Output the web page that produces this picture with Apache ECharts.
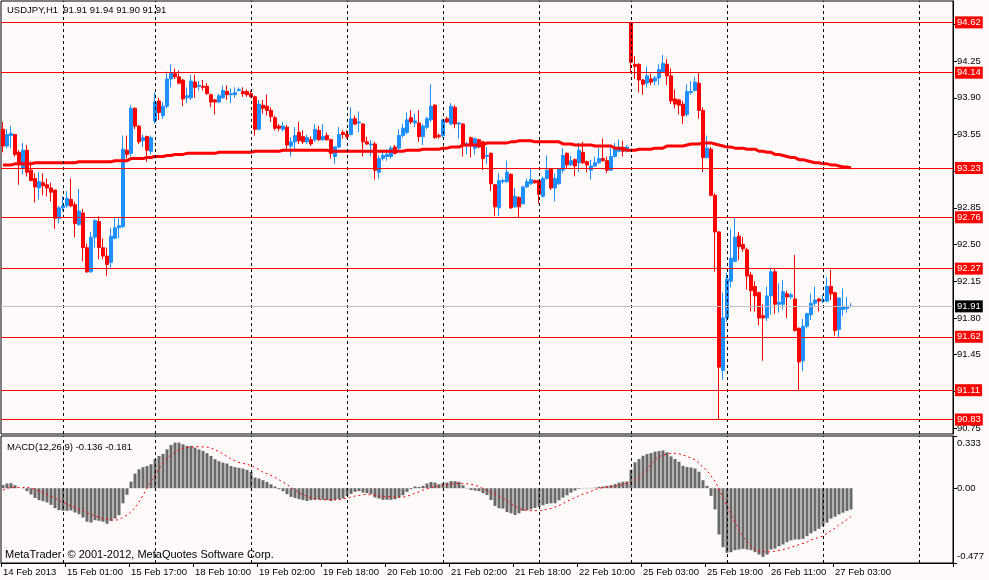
<!DOCTYPE html>
<html>
<head>
<meta charset="utf-8">
<title>USDJPY,H1</title>
<script src="https://cdn.jsdelivr.net/npm/echarts@6/dist/echarts.min.js"></script>
<style>
  html, body { margin: 0; padding: 0; background: #fffafa; }
  #chart { width: 989px; height: 580px; }
</style>
</head>
<body>
<div id="chart"></div>
<script>
// USDJPY H1 with MA and MACD(12,26,9), MetaTrader style

const symbol = 'USDJPY';
const period = 'H1';

// trading hours per day [day, first hour, last hour]; bars after 27 Feb 07:00 are empty space
const sessions = [
  ['14 Feb', 9, 23], ['15 Feb', 0, 22], ['18 Feb', 0, 23], ['19 Feb', 0, 23],
  ['20 Feb', 0, 23], ['21 Feb', 0, 23], ['22 Feb', 0, 22], ['25 Feb', 0, 23],
  ['26 Feb', 0, 23], ['27 Feb', 0, 23], ['28 Feb', 0, 8]
];

// one label every 16 bars
const tickLabels = ['14 Feb 2013', '15 Feb 01:00', '15 Feb 17:00', '18 Feb 10:00', '19 Feb 02:00',
  '19 Feb 18:00', '20 Feb 10:00', '21 Feb 02:00', '21 Feb 18:00', '22 Feb 10:00',
  '25 Feb 03:00', '25 Feb 19:00', '26 Feb 11:00', '27 Feb 03:00'];

// [open, high, low, close]
const bars = [
  // 14 Feb
  [93.60,93.67,93.38,93.44],[93.44,93.60,93.42,93.55],[93.54,93.63,93.42,93.56],[93.55,93.55,93.34,93.36],[93.38,93.40,93.07,93.26],
  [93.23,93.47,93.17,93.40],[93.40,93.45,93.15,93.19],[93.21,93.29,93.11,93.11],[93.13,93.18,92.90,93.05],[93.04,93.19,92.93,93.10],
  [93.09,93.18,92.97,93.06],[93.07,93.13,92.96,93.04],[93.04,93.09,92.91,93.00],[93.02,93.02,92.65,92.75],[92.75,92.87,92.70,92.85],
  // 15 Feb
  [92.85,92.96,92.82,92.87],[92.87,93.01,92.85,92.94],[92.93,93.13,92.86,92.87],[92.88,92.91,92.57,92.70],[92.69,93.03,92.68,92.82],
  [92.80,92.84,92.34,92.47],[92.47,92.51,92.23,92.24],[92.24,92.62,92.23,92.57],[92.57,92.74,92.47,92.73],[92.72,92.77,92.36,92.47],
  [92.47,92.56,92.36,92.39],[92.39,92.47,92.20,92.31],[92.33,92.66,92.28,92.58],[92.56,92.76,92.55,92.66],[92.66,92.75,92.56,92.68],
  [92.67,93.54,92.66,93.41],[93.40,93.54,93.32,93.36],[93.37,93.83,93.34,93.80],[93.80,93.81,93.60,93.63],[93.63,93.64,93.46,93.48],
  [93.49,93.55,93.43,93.52],[93.53,93.54,93.29,93.40],[93.39,93.54,93.36,93.52],
  // 18 Feb
  [93.68,93.95,93.65,93.86],[93.87,93.90,93.69,93.76],
  [93.73,93.86,93.70,93.82],[93.82,94.15,93.80,94.08],[94.08,94.22,94.00,94.14],[94.13,94.18,94.08,94.10],[94.10,94.16,94.03,94.04],
  [94.07,94.08,93.82,93.89],[93.90,94.00,93.85,93.92],[93.90,94.12,93.88,94.06],[94.05,94.12,93.90,94.00],[94.01,94.06,93.97,94.02],
  [94.01,94.07,93.97,94.00],[94.01,94.04,93.93,93.94],[93.93,93.94,93.81,93.86],[93.88,93.89,93.74,93.86],[93.86,93.94,93.85,93.92],
  [93.90,94.02,93.89,93.97],[93.96,94.02,93.88,93.93],[93.93,93.99,93.85,93.94],[93.93,94.00,93.90,93.95],[93.97,94.00,93.96,93.98],
  [93.96,94.00,93.91,93.94],[93.96,93.98,93.91,93.93],
  // 19 Feb
  [93.94,93.97,93.90,93.91],[93.91,93.92,93.54,93.60],[93.60,93.88,93.59,93.84],
  [93.83,93.88,93.75,93.80],[93.82,93.93,93.73,93.78],[93.78,93.81,93.67,93.72],[93.71,93.73,93.59,93.61],[93.63,93.65,93.58,93.61],
  [93.60,93.67,93.58,93.63],[93.62,93.64,93.40,93.45],[93.44,93.52,93.34,93.48],[93.48,93.62,93.40,93.54],[93.57,93.67,93.46,93.49],
  [93.53,93.59,93.46,93.48],[93.48,93.55,93.46,93.52],[93.50,93.53,93.44,93.46],[93.50,93.65,93.48,93.60],[93.59,93.63,93.49,93.50],
  [93.50,93.65,93.49,93.53],[93.54,93.57,93.49,93.50],[93.50,93.51,93.32,93.37],[93.34,93.44,93.27,93.43],[93.43,93.62,93.42,93.55],
  [93.57,93.59,93.51,93.55],
  // 20 Feb
  [93.55,93.59,93.51,93.53],[93.55,93.81,93.54,93.70],[93.70,93.73,93.64,93.65],[93.66,93.77,93.57,93.67],
  [93.65,93.66,93.34,93.48],[93.48,93.53,93.45,93.46],[93.45,93.50,93.34,93.46],[93.46,93.48,93.12,93.21],[93.19,93.35,93.13,93.32],
  [93.32,93.40,93.30,93.35],[93.34,93.41,93.30,93.36],[93.34,93.44,93.32,93.42],[93.43,93.45,93.36,93.37],[93.42,93.60,93.40,93.54],
  [93.54,93.65,93.52,93.61],[93.57,93.76,93.55,93.69],[93.71,93.78,93.65,93.67],[93.66,93.75,93.62,93.68],[93.66,93.78,93.48,93.53],
  [93.53,93.65,93.45,93.63],[93.62,93.72,93.60,93.70],[93.69,94.03,93.67,93.82],[93.83,93.84,93.51,93.52],[93.54,93.56,93.51,93.53],
  // 21 Feb
  [93.54,93.70,93.52,93.69],[93.70,93.72,93.66,93.67],[93.65,93.85,93.64,93.82],[93.81,93.83,93.61,93.65],[93.65,93.67,93.51,93.66],
  [93.65,93.66,93.34,93.44],[93.44,93.48,93.36,93.46],[93.52,93.53,93.33,93.45],[93.42,93.52,93.36,93.51],[93.50,93.51,93.42,93.43],
  [93.48,93.49,93.21,93.32],[93.34,93.43,93.27,93.35],[93.37,93.38,93.01,93.08],[93.07,93.08,92.77,92.86],[92.85,93.18,92.77,93.11],
  [93.10,93.13,93.08,93.11],[93.10,93.30,93.09,93.19],[93.17,93.18,92.84,92.85],[92.86,93.04,92.85,92.96],[92.95,92.96,92.76,92.86],
  [92.89,93.06,92.88,93.05],[93.05,93.13,93.04,93.10],[93.08,93.23,93.07,93.12],[93.11,93.12,93.08,93.09],
  // 22 Feb
  [93.11,93.12,92.89,92.98],
  [92.96,93.15,92.95,93.13],[93.13,93.35,93.12,93.21],[93.22,93.23,93.02,93.04],[93.04,93.18,92.91,93.13],[93.08,93.23,93.07,93.22],
  [93.21,93.42,93.18,93.35],[93.37,93.38,93.23,93.26],[93.26,93.35,93.25,93.30],[93.31,93.32,93.15,93.25],[93.28,93.47,93.19,93.40],
  [93.38,93.48,93.27,93.28],[93.29,93.30,93.19,93.26],[93.21,93.31,93.12,93.25],[93.25,93.34,93.24,93.28],[93.28,93.42,93.27,93.32],
  [93.32,93.51,93.29,93.30],[93.30,93.34,93.18,93.21],[93.21,93.43,93.20,93.34],[93.34,93.47,93.33,93.43],[93.39,93.50,93.38,93.43],
  [93.42,93.49,93.34,93.39],[93.39,93.45,93.38,93.43],
  // 25 Feb
  [94.62,94.62,94.14,94.24],[94.22,94.30,94.08,94.20],[94.22,94.23,93.95,94.07],
  [94.07,94.08,93.93,94.03],[94.04,94.20,94.00,94.11],[94.08,94.13,94.02,94.05],[94.06,94.11,94.02,94.09],[94.09,94.22,94.02,94.17],
  [94.15,94.31,94.14,94.23],[94.22,94.27,94.02,94.11],[94.11,94.18,93.84,93.87],[93.89,93.98,93.80,93.84],[93.88,93.89,93.74,93.83],
  [93.84,93.87,93.65,93.73],[93.74,94.03,93.72,93.96],[93.95,94.06,93.93,93.96],[93.97,94.10,93.96,94.05],[94.04,94.14,93.70,93.78],
  [93.78,93.81,93.19,93.33],[93.33,93.54,93.32,93.42],[93.41,93.43,92.96,92.97],[92.97,92.99,92.24,92.62],[92.62,92.63,90.83,91.33],
  [91.30,92.04,91.21,91.80],
  // 26 Feb
  [91.80,92.23,91.76,92.17],[92.15,92.65,92.09,92.37],[92.34,92.76,92.33,92.57],[92.58,92.62,92.35,92.48],
  [92.50,92.57,92.43,92.46],[92.45,92.47,92.07,92.20],[92.21,92.24,91.86,92.06],[92.10,92.15,91.86,92.01],[92.04,92.05,91.73,91.80],
  [91.82,91.93,91.39,91.80],[91.80,92.10,91.77,92.01],[92.01,92.28,91.83,92.24],[92.24,92.27,91.84,91.93],[91.93,92.13,91.85,91.95],
  [91.93,92.16,91.88,92.05],[92.03,92.06,91.80,92.00],[92.00,92.04,91.98,92.02],[91.98,92.40,91.67,91.68],[91.70,91.71,91.11,91.38],
  [91.39,91.79,91.29,91.72],[91.72,91.85,91.70,91.84],[91.83,92.03,91.78,91.94],[91.94,92.10,91.91,91.97],[91.98,91.99,91.86,91.96],
  // 27 Feb
  [91.96,92.02,91.94,91.97],[91.96,92.19,91.95,92.10],[92.10,92.26,91.97,92.03],[92.04,92.05,91.63,91.68],[91.69,92.00,91.61,91.99],
  [91.88,92.08,91.82,91.91],[91.89,92.00,91.85,91.91],[91.91,91.94,91.90,91.91]
];

// moving average (thick red line)
const ma = [
  93.26,93.26,93.26,93.27,93.27,93.27,93.27,93.27,93.28,93.28,
  93.28,93.28,93.28,93.28,93.28,93.28,93.28,93.28,93.28,93.29,
  93.29,93.29,93.29,93.29,93.29,93.29,93.29,93.29,93.30,93.30,
  93.30,93.30,93.32,93.32,93.32,93.32,93.33,93.33,93.34,93.34,
  93.34,93.35,93.35,93.36,93.36,93.36,93.37,93.37,93.37,93.37,
  93.37,93.37,93.37,93.37,93.38,93.38,93.38,93.38,93.38,93.38,
  93.38,93.38,93.38,93.39,93.39,93.39,93.39,93.39,93.39,93.39,
  93.40,93.40,93.40,93.40,93.40,93.40,93.40,93.40,93.40,93.40,
  93.40,93.40,93.39,93.39,93.39,93.39,93.39,93.39,93.39,93.39,
  93.39,93.39,93.39,93.39,93.39,93.39,93.39,93.39,93.39,93.39,
  93.39,93.40,93.40,93.40,93.40,93.41,93.41,93.41,93.41,93.41,
  93.42,93.42,93.43,93.43,93.43,93.45,93.45,93.45,93.45,93.45,
  93.45,93.47,93.47,93.47,93.47,93.47,93.47,93.48,93.48,93.49,
  93.49,93.49,93.49,93.48,93.48,93.48,93.48,93.48,93.48,93.48,
  93.46,93.46,93.46,93.45,93.45,93.45,93.45,93.45,93.44,93.44,
  93.44,93.44,93.44,93.42,93.42,93.42,93.40,93.40,93.40,93.41,
  93.41,93.41,93.41,93.42,93.42,93.42,93.44,93.44,93.44,93.44,
  93.44,93.45,93.46,93.46,93.46,93.47,93.47,93.47,93.46,93.45,
  93.44,93.43,93.43,93.42,93.42,93.42,93.41,93.41,93.41,93.39,
  93.39,93.38,93.38,93.36,93.36,93.35,93.34,93.33,93.33,93.31,
  93.31,93.30,93.29,93.28,93.28,93.27,93.27,93.26,93.26,93.25,
  93.24,93.24,93.23
];

// MACD main (histogram)
const macdMain = [
  0.020,0.030,0.032,0.019,0.000,-0.002,-0.019,-0.040,-0.062,-0.076,
  -0.083,-0.091,-0.106,-0.127,-0.140,-0.144,-0.144,-0.142,-0.155,-0.166,
  -0.187,-0.214,-0.219,-0.204,-0.208,-0.214,-0.227,-0.208,-0.193,-0.172,
  -0.096,-0.042,0.042,0.093,0.121,0.134,0.142,0.153,0.185,0.206,
  0.219,0.248,0.276,0.291,0.291,0.280,0.270,0.270,0.259,0.248,
  0.238,0.223,0.206,0.185,0.172,0.163,0.157,0.142,0.134,0.130,
  0.125,0.117,0.104,0.068,0.062,0.051,0.040,0.025,0.011,-0.006,
  -0.019,-0.038,-0.055,-0.062,-0.070,-0.076,-0.081,-0.076,-0.074,-0.072,
  -0.074,-0.076,-0.081,-0.076,-0.070,-0.066,-0.049,-0.036,-0.023,-0.019,
  -0.028,-0.032,-0.038,-0.059,-0.066,-0.074,-0.074,-0.074,-0.070,-0.059,
  -0.045,-0.023,-0.006,0.011,0.008,0.015,0.030,0.040,0.036,0.025,
  0.032,0.036,0.045,0.045,0.041,0.019,-0.002,-0.011,-0.015,-0.019,
  -0.032,-0.043,-0.075,-0.113,-0.128,-0.130,-0.152,-0.160,-0.171,-0.160,
  -0.145,-0.141,-0.135,-0.126,-0.118,-0.109,-0.100,-0.096,-0.096,-0.077,
  -0.060,-0.045,-0.028,-0.015,-0.004,0.002,0.002,0.002,0.004,0.009,
  0.011,0.015,0.019,0.026,0.036,0.041,0.043,0.118,0.165,0.186,
  0.207,0.218,0.224,0.233,0.237,0.241,0.229,0.203,0.186,0.169,
  0.143,0.135,0.132,0.126,0.105,0.051,0.015,-0.049,-0.135,-0.295,
  -0.376,-0.412,-0.408,-0.395,-0.391,-0.387,-0.391,-0.395,-0.408,-0.423,
  -0.438,-0.423,-0.391,-0.385,-0.370,-0.359,-0.344,-0.333,-0.327,-0.327,
  -0.323,-0.306,-0.288,-0.274,-0.259,-0.241,-0.220,-0.194,-0.182,-0.167,
  -0.156,-0.145,-0.136
];

// MACD signal (dotted)
const macdSignal = [
  -0.013,0.000,0.004,0.004,0.004,0.005,0.006,0.000,-0.008,-0.017,
  -0.028,-0.040,-0.052,-0.064,-0.078,-0.090,-0.104,-0.112,-0.122,-0.135,
  -0.147,-0.158,-0.168,-0.177,-0.185,-0.193,-0.198,-0.203,-0.204,-0.200,
  -0.185,-0.172,-0.150,-0.125,-0.090,-0.045,0.000,0.045,0.080,0.125,
  0.160,0.190,0.210,0.228,0.245,0.255,0.259,0.262,0.264,0.265,
  0.264,0.262,0.256,0.246,0.233,0.218,0.202,0.186,0.174,0.164,
  0.158,0.153,0.144,0.132,0.118,0.102,0.092,0.082,0.068,0.054,
  0.038,0.024,0.005,-0.010,-0.030,-0.042,-0.052,-0.062,-0.067,-0.070,
  -0.073,-0.074,-0.074,-0.074,-0.074,-0.068,-0.062,-0.056,-0.050,-0.046,
  -0.041,-0.040,-0.042,-0.046,-0.049,-0.053,-0.054,-0.055,-0.057,-0.059,
  -0.057,-0.052,-0.043,-0.032,-0.023,-0.012,-0.004,0.004,0.009,0.015,
  0.018,0.024,0.027,0.029,0.030,0.030,0.028,0.026,0.019,0.010,
  -0.002,-0.015,-0.027,-0.038,-0.049,-0.064,-0.080,-0.100,-0.115,-0.130,
  -0.137,-0.141,-0.143,-0.143,-0.143,-0.140,-0.135,-0.130,-0.120,-0.110,
  -0.097,-0.084,-0.072,-0.060,-0.048,-0.038,-0.030,-0.020,-0.008,-0.002,
  0.004,0.008,0.011,0.014,0.018,0.025,0.030,0.036,0.052,0.068,
  0.095,0.118,0.155,0.180,0.202,0.210,0.218,0.223,0.223,0.219,
  0.212,0.203,0.192,0.182,0.160,0.135,0.112,0.080,0.045,-0.005,
  -0.060,-0.110,-0.165,-0.220,-0.262,-0.310,-0.340,-0.368,-0.392,-0.400,
  -0.405,-0.406,-0.406,-0.402,-0.396,-0.391,-0.385,-0.376,-0.370,-0.360,
  -0.352,-0.344,-0.330,-0.322,-0.312,-0.305,-0.287,-0.270,-0.256,-0.232,
  -0.218,-0.200,-0.181
];

// horizontal lines drawn on the chart
const levels = [94.62, 94.14, 93.23, 92.76, 92.27, 91.62, 91.11, 90.83];
const bid = 91.91;

const priceTicks = [94.60, 94.25, 93.90, 93.55, 93.20, 92.85, 92.50, 92.15, 91.80, 91.45, 91.10, 90.75];
const macdTicks = [0.333, 0, -0.477];

// ---- build categories
const pad = n => (n < 10 ? '0' : '') + n;
const categories = [];
const dayStarts = [];
sessions.forEach(([day, h0, h1]) => {
  for (let h = h0; h <= h1; h++) {
    if (h === 0) dayStarts.push(categories.length);
    categories.push(day + ' ' + pad(h) + ':00');
  }
});

const FONT = 'Liberation Sans';
const FS = 9.5;
const showLabel = index => index % 16 === 0 && index < bars.length;

const last = bars[bars.length - 1];
const header = symbol + ',' + period + '  ' + last.map(v => v.toFixed(2)).join(' ');
const macdHeader = 'MACD(12,26,9) ' + macdMain[macdMain.length - 1].toFixed(3) + ' ' +
  macdSignal[macdSignal.length - 1].toFixed(3);

const dayLine = dayStarts.map(i => ({ xAxis: categories[i] }));
const dayLineStyle = { color: '#000', width: 1, type: [3, 3] };

const levelLines = levels.map(v => ({
  yAxis: v,
  lineStyle: { color: '#ff0000', width: 1, type: 'solid' },
  label: { formatter: v.toFixed(2), backgroundColor: '#ff0000' }
}));
levelLines.push({
  yAxis: bid,
  lineStyle: { color: '#c0c0c0', width: 1, type: 'solid' },
  label: { formatter: bid.toFixed(2), backgroundColor: '#000' }
});

const chart = echarts.init(document.getElementById('chart'));

chart.setOption({
  animation: false,
  backgroundColor: '#fffafa',
  textStyle: { fontFamily: FONT, fontSize: FS, color: '#000' },
  grid: [
    { left: 1, top: 1, width: 952, height: 433, show: true, borderColor: '#000', borderWidth: 1 },
    { left: 1, top: 436, width: 952, height: 127, show: true, borderColor: '#000', borderWidth: 1 }
  ],
  xAxis: [
    {
      type: 'category', gridIndex: 0, data: categories, boundaryGap: true,
      axisLine: { show: false }, axisTick: { show: false }, axisLabel: { show: false }, splitLine: { show: false }
    },
    {
      type: 'category', gridIndex: 1, data: categories, boundaryGap: true, position: 'bottom',
      axisLine: { show: true, onZero: false, lineStyle: { color: '#000', width: 1 } },
      axisTick: { show: true, interval: showLabel, length: 4, lineStyle: { color: '#000' } },
      axisLabel: {
        interval: showLabel, align: 'left', margin: 4, color: '#000', fontFamily: FONT, fontSize: FS,
        formatter: (value, index) => tickLabels[index / 16] || ''
      },
      splitLine: { show: false }
    }
  ],
  yAxis: [
    {
      type: 'value', gridIndex: 0, position: 'right', min: 90.692, max: 94.824,
      splitLine: { show: false },
      axisLine: { show: true, lineStyle: { color: '#000' } },
      axisTick: { show: true, customValues: priceTicks, length: 4, lineStyle: { color: '#000' } },
      axisLabel: {
        customValues: priceTicks, margin: 4, color: '#000', fontFamily: FONT, fontSize: FS,
        formatter: v => v.toFixed(2)
      }
    },
    {
      type: 'value', gridIndex: 1, position: 'right', min: -0.477, max: 0.333,
      splitLine: { show: false },
      axisLine: { show: true, lineStyle: { color: '#000' } },
      axisTick: { show: true, customValues: macdTicks, length: 4, lineStyle: { color: '#000' } },
      axisLabel: {
        customValues: macdTicks, margin: 4, color: '#000', fontFamily: FONT, fontSize: FS,
        formatter: v => v > 0.1 ? '{t|' + v.toFixed(3) + '}' : (v < -0.1 ? '{b|' + v.toFixed(3) + '}' : v.toFixed(2)),
        rich: {
          t: { padding: [14, 0, 0, 0], color: '#000', fontFamily: FONT, fontSize: FS },
          b: { padding: [0, 0, 14, 0], color: '#000', fontFamily: FONT, fontSize: FS }
        }
      }
    }
  ],
  series: [
    {
      // day separators, price window
      type: 'line', xAxisIndex: 0, yAxisIndex: 0, data: [], z: 1, silent: true,
      markLine: { symbol: ['none', 'none'], silent: true, animation: false,
        label: { show: false }, lineStyle: dayLineStyle, data: dayLine }
    },
    {
      type: 'candlestick', xAxisIndex: 0, yAxisIndex: 0, z: 2, silent: true,
      barWidth: 3,
      data: bars.map(b => [b[0], b[3], b[2], b[1]]),
      itemStyle: {
        color: '#1e90ff', color0: '#ff0000',
        borderColor: '#1e90ff', borderColor0: '#ff0000', borderColorDoji: '#1e90ff',
        borderWidth: 1
      }
    },
    {
      type: 'line', xAxisIndex: 0, yAxisIndex: 0, z: 3, silent: true,
      data: ma, showSymbol: false, symbol: 'none',
      lineStyle: { color: '#ff0000', width: 3 }
    },
    {
      // horizontal lines with price flags
      type: 'line', xAxisIndex: 0, yAxisIndex: 0, data: [], z: 5, silent: true,
      markLine: {
        symbol: ['none', 'none'], silent: true, animation: false,
        label: {
          show: true, position: 'end', distance: 2, color: '#fff',
          fontFamily: FONT, fontSize: FS, padding: [1, 2, 0, 2], lineHeight: 11
        },
        data: levelLines
      }
    },
    {
      // day separators, MACD window
      type: 'line', xAxisIndex: 1, yAxisIndex: 1, data: [], z: 1, silent: true,
      markLine: { symbol: ['none', 'none'], silent: true, animation: false,
        label: { show: false }, lineStyle: dayLineStyle, data: dayLine }
    },
    {
      type: 'bar', xAxisIndex: 1, yAxisIndex: 1, z: 2, silent: true,
      data: macdMain, barWidth: 3,
      itemStyle: { color: '#696969' }
    },
    {
      type: 'line', xAxisIndex: 1, yAxisIndex: 1, z: 3, silent: true,
      data: macdSignal, showSymbol: false, symbol: 'none',
      lineStyle: { color: '#ff0000', width: 1, type: [2, 3] }
    }
  ],
  graphic: [
    { type: 'text', left: 7, top: 5, z: 100, silent: true,
      style: { text: header, fill: '#000', fontFamily: FONT, fontSize: FS } },
    { type: 'text', left: 7, top: 442, z: 100, silent: true,
      style: { text: macdHeader, fill: '#000', fontFamily: FONT, fontSize: FS } },
    { type: 'text', left: 5, top: 549, z: 100, silent: true,
      style: { text: 'MetaTrader  \u00a9 2001-2012, MetaQuotes Software Corp.', fill: '#000', fontFamily: FONT, fontSize: 11 } }
  ]
});
</script>
</body>
</html>
